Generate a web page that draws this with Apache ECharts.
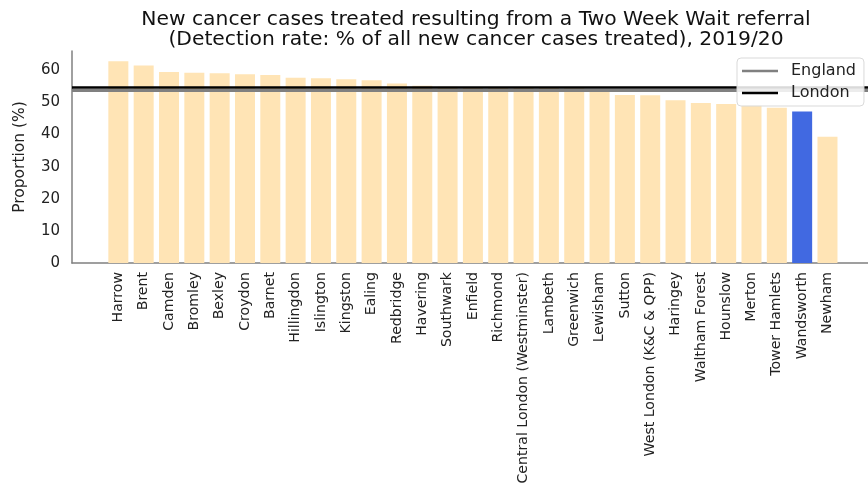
<!DOCTYPE html>
<html>
<head>
<meta charset="utf-8">
<script src="https://cdn.jsdelivr.net/npm/echarts@6/dist/echarts.min.js"></script>
<style>
  html, body { margin: 0; padding: 0; background: #fff; }
  #chart { width: 868px; height: 485px; }
</style>
</head>
<body>
<div id="chart"></div>
<script>
// borough / trust names, sorted by detection rate
var boroughs = ["Harrow", "Brent", "Camden", "Bromley", "Bexley", "Croydon", "Barnet",
  "Hillingdon", "Islington", "Kingston", "Ealing", "Redbridge", "Havering", "Southwark",
  "Enfield", "Richmond", "Central London (Westminster)", "Lambeth", "Greenwich", "Lewisham",
  "Sutton", "West London (K&C & QPP)", "Haringey", "Waltham Forest", "Hounslow", "Merton",
  "Tower Hamlets", "Wandsworth", "Newham"];
var rates = [62.8, 61.5, 59.5, 59.2, 59.1, 58.8, 58.5,
  57.7, 57.5, 57.2, 56.9, 55.9, 55.2, 54.9,
  54.8, 54.7, 54.6, 54.5, 54.4, 54.2,
  52.3, 52.2, 50.7, 49.8, 49.5, 49.1,
  48.3, 47.2, 39.3];
var highlighted = "Wandsworth";
var englandRate = 53.9;
var londonRate = 54.8;
var yTicks = [0, 10, 20, 30, 40, 50, 60];

var font = "DejaVu Sans";
var chart = echarts.init(document.getElementById("chart"));

var barData = boroughs.map(function (name, i) {
  return {
    value: [i, rates[i]],
    itemStyle: { color: name === highlighted ? "#4169E1" : "#FFE4B5" }
  };
});

function refLine(name, value, color, width) {
  return {
    name: name,
    type: "line",
    data: [],
    color: color,
    z: 3,
    lineStyle: { color: color, width: width },
    markLine: {
      silent: true,
      symbol: "none",
      label: { show: false },
      lineStyle: { color: color, width: width, type: "solid" },
      data: [{ yAxis: value }]
    }
  };
}

chart.setOption({
  animation: false,
  title: {
    text: "New cancer cases treated resulting from a Two Week Wait referral\n(Detection rate: % of all new cancer cases treated), 2019/20",
    left: 471,
    top: 5,
    textAlign: "center",
    textStyle: { fontFamily: font, fontSize: 20.3, fontWeight: "normal", color: "#111", lineHeight: 20 }
  },
  legend: {
    orient: "vertical",
    left: 737,
    top: 58,
    z: 10,
    data: ["England", "London"],
    icon: "rect",
    itemWidth: 36,
    itemHeight: 2.5,
    itemGap: 6,
    padding: [5, 8, 5, 5],
    backgroundColor: "rgba(255,255,255,0.85)",
    borderColor: "#d9d9d9",
    borderWidth: 1,
    borderRadius: 4,
    textStyle: { fontFamily: font, fontSize: 16, color: "#222", padding: [0, 0, 0, 8] }
  },
  grid: { left: 72, right: 0, top: 51, bottom: 222, outerBoundsMode: "none" },
  xAxis: {
    type: "value",
    min: -1.83,
    max: 29.6,
    splitLine: { show: false },
    axisTick: { show: false },
    axisLine: { show: true, onZero: false, lineStyle: { color: "#808080", width: 1.5 } },
    axisLabel: {
      customValues: boroughs.map(function (n, i) { return i; }),
      formatter: function (v) { return boroughs[Math.round(v)]; },
      rotate: 90,
      margin: 9,
      fontFamily: font,
      fontSize: 14.1,
      color: "#222"
    }
  },
  yAxis: {
    type: "value",
    min: 0,
    max: 66,
    name: "Proportion (%)",
    nameLocation: "middle",
    nameGap: 44,
    nameTextStyle: { fontFamily: font, fontSize: 15.5, color: "#222" },
    splitLine: { show: false },
    axisTick: { show: false },
    axisLine: { show: true, onZero: false, lineStyle: { color: "#808080", width: 1.5 } },
    axisLabel: {
      customValues: yTicks,
      margin: 12,
      fontFamily: font,
      fontSize: 15,
      color: "#222"
    }
  },
  series: [
    {
      name: "Rate",
      type: "bar",
      barWidth: 20,
      data: barData
    },
    refLine("England", englandRate, "#808080", 3),
    refLine("London", londonRate, "#000000", 2.5)
  ]
});
</script>
</body>
</html>
